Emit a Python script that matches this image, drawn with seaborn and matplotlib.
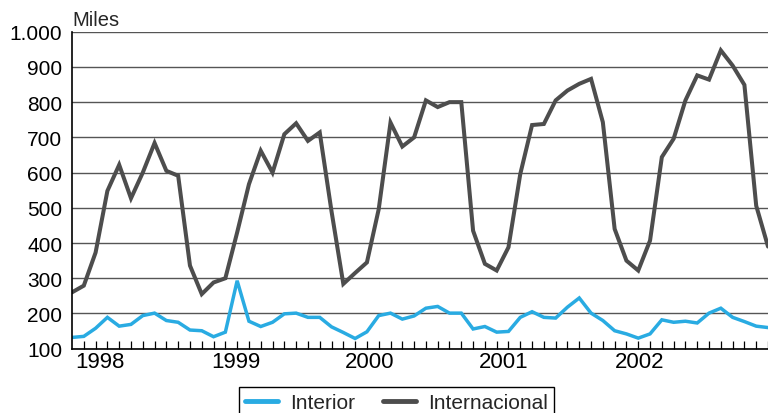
import matplotlib
matplotlib.use("Agg")
import matplotlib.pyplot as plt
from matplotlib.lines import Line2D
import seaborn as sns
import pandas as pd

# ---- data (thousands of passengers, monthly Jan 1998 - Dec 2002) ----
interior = [132, 135, 158, 189, 164, 169, 194, 201, 180, 175,
            153, 151, 134, 147, 293, 178, 163, 175, 199, 201,
            189, 189, 162, 146, 129, 148, 194, 201, 184, 193,
            215, 220, 201, 201, 156, 163, 147, 149, 189, 205,
            189, 187, 218, 244, 201, 180, 151, 142, 130, 142,
            182, 175, 178, 173, 201, 215, 189, 177, 164, 160]
internacional = [260, 279, 373, 548, 622, 527, 600, 684, 605, 591,
                 336, 255, 288, 300, 430, 567, 662, 600, 709, 740,
                 690, 714, 490, 284, 315, 345, 496, 742, 674, 700,
                 805, 786, 800, 800, 435, 341, 322, 388, 596, 735,
                 738, 805, 833, 852, 866, 743, 440, 350, 322, 407,
                 644, 696, 805, 876, 864, 947, 904, 849, 506, 390]
months = list(range(len(interior)))
year_labels = ["1998", "1999", "2000", "2001", "2002"]
year_label_pos = [2.35, 13.9, 25.25, 36.6, 48.15]
y_ticks = [100, 200, 300, 400, 500, 600, 700, 800, 900, 1000]
y_tick_labels = ["100", "200", "300", "400", "500", "600", "700", "800", "900", "1.000"]
series_names = ["Interior", "Internacional"]
colors = {"Interior": "#29abe2", "Internacional": "#4d4d4d"}

df = pd.DataFrame({
    "mes": months * 2,
    "valor": interior + internacional,
    "serie": [series_names[0]] * len(interior) + [series_names[1]] * len(internacional),
})

sns.set_style("white")
plt.rcParams["font.family"] = ["Liberation Sans", "DejaVu Sans"]

fig = plt.figure(figsize=(7.68, 4.14), dpi=100)
ax = fig.add_axes([72 / 768, 64.3 / 414, 1 - 72 / 768, (349.7 - 32.7) / 414])

sns.lineplot(data=df, x="mes", y="valor", hue="serie", palette=colors,
             hue_order=series_names, ax=ax, legend=False)
for line, name in zip(ax.get_lines(), series_names):
    line.set_linewidth(2.5 if name == "Interior" else 2.9)
    line.set_solid_joinstyle("miter")

ax.set_xlim(0, 58.5)
ax.set_ylim(100, 1000)
ax.set_yticks(y_ticks)
ax.set_yticklabels(y_tick_labels)
ax.yaxis.grid(True, color="#555555", linewidth=1.0)
ax.set_axisbelow(True)
ax.tick_params(axis="y", length=0, pad=7, labelsize=15, labelcolor="black")

ax.set_xticks(year_label_pos)
ax.set_xticklabels(year_labels)
ax.set_xticks(months[1:], minor=True)
ax.tick_params(axis="x", which="major", length=0, pad=2, labelsize=16, labelcolor="black")
ax.tick_params(axis="x", which="minor", direction="in", length=5.5, width=0.9,
               color="black", bottom=True)
ax.set_xlabel("")
ax.set_ylabel("")

for s in ["top", "right"]:
    ax.spines[s].set_visible(False)
for s in ["left", "bottom"]:
    ax.spines[s].set_color("black")
    ax.spines[s].set_linewidth(1.2)

ax.text(0.0, 1.008, "Miles", transform=ax.transAxes, ha="left", va="bottom",
        fontsize=14.5)

handles = [Line2D([], [], color=colors[n], linewidth=3.5) for n in series_names]
leg = fig.legend(handles, series_names, loc="upper center",
                 bbox_to_anchor=(396.5 / 768, (414 - 388) / 414), ncol=2,
                 frameon=True, fancybox=False, framealpha=1, edgecolor="black",
                 fontsize=15, handlelength=1.6, handletextpad=0.58,
                 columnspacing=1.3, borderpad=0.3, borderaxespad=0)
leg.get_frame().set_linewidth(1.0)

fig.savefig("out.png", dpi=100)
